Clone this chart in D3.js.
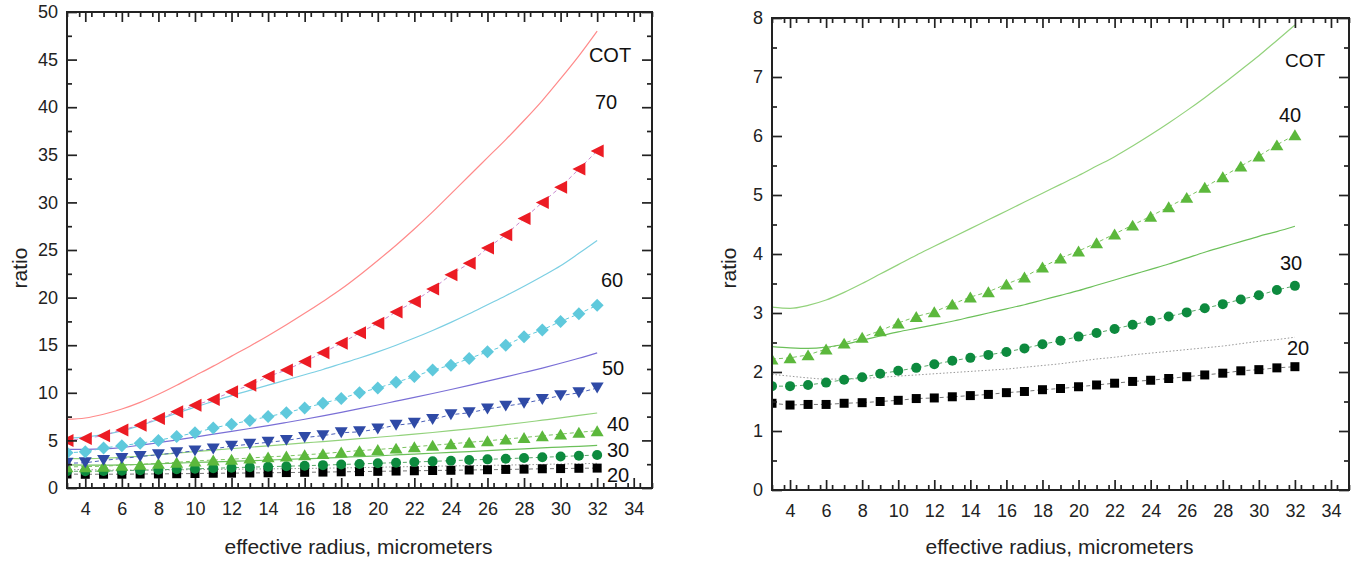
<!DOCTYPE html>
<html>
<head>
<meta charset="utf-8">
<script src="https://cdn.jsdelivr.net/npm/d3@7"></script>
<style>
  body { margin: 0; background: #fff; }
  svg { display: block; font-family: "Liberation Sans", Arial, sans-serif; }
</style>
</head>
<body>
<svg id="chart" width="1371" height="562"></svg>
<script>
// effective radius, micrometers
const radius = [3, 4, 5, 6, 7, 8, 9, 10, 11, 12, 13, 14, 15, 16, 17, 18, 19, 20, 21, 22, 23, 24, 25, 26, 27, 28, 29, 30, 31, 32];

// ratio for each COT (markers)
const cot70 = [5.0, 5.2, 5.5, 6.1, 6.6, 7.3, 8.0, 8.7, 9.3, 10.1, 10.8, 11.7, 12.4, 13.3, 14.2, 15.2, 16.3, 17.3, 18.5, 19.6, 20.9, 22.4, 23.6, 25.2, 26.6, 28.3, 30.0, 31.6, 33.5, 35.4];
const cot60 = [3.7, 3.8, 4.2, 4.45, 4.7, 5.0, 5.4, 5.8, 6.3, 6.7, 7.1, 7.5, 7.9, 8.4, 8.9, 9.4, 10.0, 10.5, 11.1, 11.7, 12.4, 12.9, 13.6, 14.3, 15.0, 15.9, 16.6, 17.5, 18.3, 19.2];
const cot50 = [2.6, 2.65, 2.9, 3.1, 3.3, 3.5, 3.7, 3.9, 4.1, 4.4, 4.6, 4.8, 5.0, 5.3, 5.5, 5.8, 5.9, 6.2, 6.6, 6.8, 7.2, 7.7, 7.9, 8.3, 8.6, 8.9, 9.3, 9.7, 10.0, 10.5];
const cot40 = [2.22, 2.24, 2.29, 2.39, 2.49, 2.59, 2.70, 2.83, 2.94, 3.02, 3.15, 3.27, 3.36, 3.49, 3.61, 3.78, 3.93, 4.05, 4.19, 4.34, 4.49, 4.64, 4.80, 4.96, 5.13, 5.31, 5.49, 5.66, 5.85, 6.02];
const cot30 = [1.76, 1.76, 1.78, 1.82, 1.87, 1.91, 1.97, 2.02, 2.07, 2.13, 2.19, 2.24, 2.29, 2.34, 2.40, 2.47, 2.53, 2.60, 2.66, 2.73, 2.80, 2.87, 2.94, 3.01, 3.08, 3.15, 3.23, 3.30, 3.39, 3.46];
const cot20 = [1.47, 1.44, 1.45, 1.45, 1.47, 1.48, 1.50, 1.52, 1.55, 1.56, 1.58, 1.60, 1.62, 1.65, 1.67, 1.70, 1.72, 1.75, 1.78, 1.81, 1.84, 1.86, 1.89, 1.92, 1.95, 1.98, 2.02, 2.04, 2.07, 2.09];

// ratio curves (thin lines)
const cot70Line = [7.2, 7.35, 7.75, 8.3, 9.0, 9.85, 10.8, 11.8, 12.8, 13.85, 14.9, 16.0, 17.15, 18.35, 19.6, 20.9, 22.35, 23.9, 25.5, 27.2, 29.0, 30.9, 32.8, 34.7, 36.6, 38.6, 40.7, 43.0, 45.4, 48.0];
const cot60Line = [5.25, 5.35, 5.6, 6.0, 6.55, 7.2, 7.85, 8.5, 9.1, 9.7, 10.25, 10.8, 11.35, 11.9, 12.45, 13.05, 13.65, 14.3, 15.0, 15.75, 16.55, 17.4, 18.3, 19.25, 20.2, 21.2, 22.25, 23.35, 24.65, 26.0];
const cot50Line = [4.05, 4.05, 4.1, 4.25, 4.5, 4.75, 5.05, 5.35, 5.65, 5.95, 6.25, 6.55, 6.88, 7.22, 7.58, 7.95, 8.33, 8.72, 9.12, 9.52, 9.93, 10.35, 10.78, 11.22, 11.67, 12.13, 12.6, 13.1, 13.63, 14.2];
const cot40Line = [3.10, 3.08, 3.13, 3.22, 3.35, 3.50, 3.66, 3.82, 3.98, 4.13, 4.28, 4.43, 4.58, 4.73, 4.88, 5.03, 5.18, 5.33, 5.49, 5.65, 5.83, 6.02, 6.22, 6.43, 6.65, 6.88, 7.12, 7.36, 7.62, 7.88];
const cot30Line = [2.43, 2.41, 2.40, 2.42, 2.47, 2.54, 2.61, 2.68, 2.74, 2.80, 2.86, 2.93, 3.00, 3.07, 3.14, 3.22, 3.30, 3.38, 3.47, 3.56, 3.65, 3.74, 3.83, 3.93, 4.03, 4.12, 4.21, 4.30, 4.38, 4.47];
const cot20Line = [1.96, 1.93, 1.90, 1.88, 1.88, 1.89, 1.91, 1.93, 1.95, 1.97, 1.99, 2.01, 2.03, 2.05, 2.08, 2.11, 2.14, 2.18, 2.22, 2.25, 2.29, 2.32, 2.35, 2.38, 2.41, 2.44, 2.48, 2.52, 2.55, 2.59];

const xTickLabels = [4, 6, 8, 10, 12, 14, 16, 18, 20, 22, 24, 26, 28, 30, 32, 34];
const leftYTicks = [0, 5, 10, 15, 20, 25, 30, 35, 40, 45, 50];
const rightYTicks = [0, 1, 2, 3, 4, 5, 6, 7, 8];

const xTitle = "effective radius, micrometers";
const yTitle = "ratio";

// marker shapes, centred on the point
const shapes = {
  triLeft: (s) => `M${-s/2},0L${s/2},${-s/2}L${s/2},${s/2}Z`,
  triDown: (s) => `M${-s/2},${-s*0.42}L${s/2},${-s*0.42}L0,${s*0.42}Z`,
  triUp: (s) => `M${-s/2},${s*0.42}L${s/2},${s*0.42}L0,${-s*0.42}Z`,
  diamond: (s) => `M0,${-s/2}L${s/2},0L0,${s/2}L${-s/2},0Z`,
  circle: (s) => `M${s/2},0A${s/2},${s/2} 0 1 1 ${-s/2},0A${s/2},${s/2} 0 1 1 ${s/2},0Z`,
  square: (s) => `M${-s/2},${-s/2}h${s}v${s}h${-s}Z`
};

const svg = d3.select("#chart");

function drawPanel(cfg)
{
  const x = d3.scaleLinear().domain([3, 35]).range([cfg.left, cfg.right]);
  const y = d3.scaleLinear().domain([0, cfg.yMax]).range([cfg.bottom, cfg.top]);

  const g = svg.append("g");

  const clipId = "clip" + cfg.id;
  svg.append("clipPath").attr("id", clipId)
    .append("rect")
    .attr("x", cfg.left).attr("y", cfg.top)
    .attr("width", cfg.right - cfg.left).attr("height", cfg.bottom - cfg.top);

  const plot = g.append("g").attr("clip-path", `url(#${clipId})`);

  const line = d3.line().curve(d3.curveMonotoneX)
    .x((d, i) => x(radius[i]))
    .y((d) => y(d));

  // thin model curves
  cfg.curves.forEach(function(c)
  {
    plot.append("path")
      .attr("d", line(c.values))
      .attr("fill", "none")
      .attr("stroke", c.color)
      .attr("stroke-width", c.width || 1.2)
      .attr("stroke-dasharray", c.dash || null);
  });

  // dashed lines through markers, then markers
  cfg.series.forEach(function(s)
  {
    plot.append("path")
      .attr("d", d3.line().x((d, i) => x(radius[i])).y((d) => y(d))(s.values))
      .attr("fill", "none")
      .attr("stroke", s.dashColor)
      .attr("stroke-width", 1)
      .attr("stroke-dasharray", "4,3");
  });

  cfg.series.forEach(function(s)
  {
    plot.selectAll(null)
      .data(s.values)
      .join("path")
      .attr("transform", (d, i) => `translate(${x(radius[i])},${y(d)})`)
      .attr("d", shapes[s.shape](s.size))
      .attr("fill", s.color);
  });

  // ticks, all pointing inward
  const xMinor = d3.range(3, 35.01, 2 / 3).filter((v) => Math.abs((v - 4) / 2 - Math.round((v - 4) / 2)) > 0.01);
  const yMinor = cfg.yTicks.slice(0, -1).map((v) => v + cfg.yStep / 2);

  const tickStyle = (sel) =>
  {
    sel.select(".domain").remove();
    sel.selectAll(".tick line").attr("stroke", "#222").attr("stroke-width", 1.7);
    sel.selectAll("text").attr("fill", "#222").style("font-size", "18px").style("font-family", "Liberation Sans, Arial, sans-serif");
  };

  g.append("g").attr("transform", `translate(0,${cfg.bottom})`)
    .call(d3.axisBottom(x).tickValues(xTickLabels).tickSize(-10).tickPadding(14).tickFormat(d3.format("d")))
    .call(tickStyle);
  g.append("g").attr("transform", `translate(0,${cfg.bottom})`)
    .call(d3.axisBottom(x).tickValues(xMinor).tickSize(-5).tickFormat(""))
    .call(tickStyle);
  g.append("g").attr("transform", `translate(0,${cfg.top})`)
    .call(d3.axisTop(x).tickValues(xTickLabels).tickSize(-10).tickFormat(""))
    .call(tickStyle);
  g.append("g").attr("transform", `translate(0,${cfg.top})`)
    .call(d3.axisTop(x).tickValues(xMinor).tickSize(-5).tickFormat(""))
    .call(tickStyle);

  g.append("g").attr("transform", `translate(${cfg.left},0)`)
    .call(d3.axisLeft(y).tickValues(cfg.yTicks).tickSize(-10).tickPadding(9).tickFormat(d3.format("d")))
    .call(tickStyle);
  g.append("g").attr("transform", `translate(${cfg.left},0)`)
    .call(d3.axisLeft(y).tickValues(yMinor).tickSize(-5).tickFormat(""))
    .call(tickStyle);
  g.append("g").attr("transform", `translate(${cfg.right},0)`)
    .call(d3.axisRight(y).tickValues(cfg.yTicks).tickSize(-10).tickFormat(""))
    .call(tickStyle);
  g.append("g").attr("transform", `translate(${cfg.right},0)`)
    .call(d3.axisRight(y).tickValues(yMinor).tickSize(-5).tickFormat(""))
    .call(tickStyle);

  // frame
  g.append("rect")
    .attr("x", cfg.left).attr("y", cfg.top)
    .attr("width", cfg.right - cfg.left).attr("height", cfg.bottom - cfg.top)
    .attr("fill", "none").attr("stroke", "#222").attr("stroke-width", 2);

  // COT labels
  cfg.labels.forEach(function(l)
  {
    g.append("text")
      .attr("x", l.x).attr("y", l.y)
      .attr("text-anchor", "middle")
      .attr("dy", "0.36em")
      .style("font-size", (l.size || 20) + "px")
      .attr("fill", "#111")
      .text(l.text);
  });

  // axis titles
  g.append("text")
    .attr("x", (cfg.left + cfg.right) / 2 + cfg.titleShift)
    .attr("y", 554)
    .attr("text-anchor", "middle")
    .style("font-size", "21px")
    .attr("fill", "#222")
    .text(xTitle);

  g.append("text")
    .attr("transform", `translate(${cfg.yTitleX},268) rotate(-90)`)
    .attr("text-anchor", "middle")
    .attr("dy", "0.35em")
    .style("font-size", "21px")
    .attr("fill", "#222")
    .text(yTitle);
}

drawPanel({
  id: "L", left: 67, right: 652, top: 12, bottom: 488, yMax: 50,
  yTicks: leftYTicks, yStep: 5, titleShift: -1, yTitleX: 20,
  curves: [
    {values: cot70Line, color: "#ff8a8a"},
    {values: cot60Line, color: "#7ccfe3"},
    {values: cot50Line, color: "#7a6fd6"},
    {values: cot40Line, color: "#93d27c"},
    {values: cot30Line, color: "#6cc05a"},
    {values: cot20Line, color: "#999", dash: "1.5,2", width: 1}
  ],
  series: [
    {values: cot20, shape: "square", size: 9, color: "#000", dashColor: "#777"},
    {values: cot30, shape: "circle", size: 10, color: "#0d8a3e", dashColor: "#5aa86a"},
    {values: cot40, shape: "triUp", size: 13, color: "#5cb83c", dashColor: "#7cc460"},
    {values: cot50, shape: "triDown", size: 13, color: "#2f4aa6", dashColor: "#4a5fb8"},
    {values: cot60, shape: "diamond", size: 13, color: "#5fc9dc", dashColor: "#5fc9dc"},
    {values: cot70, shape: "triLeft", size: 13, color: "#ec1c24", dashColor: "#c98ad0"}
  ],
  labels: [
    {text: "COT", x: 610, y: 55},
    {text: "70", x: 606, y: 102},
    {text: "60", x: 612, y: 280},
    {text: "50", x: 613, y: 368},
    {text: "40", x: 618, y: 424},
    {text: "30", x: 618, y: 450},
    {text: "20", x: 618, y: 475}
  ]
});

drawPanel({
  id: "R", left: 772, right: 1349, top: 18, bottom: 490, yMax: 8,
  yTicks: rightYTicks, yStep: 1, titleShift: -1, yTitleX: 729,
  curves: [
    {values: cot40Line, color: "#93d27c"},
    {values: cot30Line, color: "#6cc05a"},
    {values: cot20Line, color: "#999", dash: "1.5,2", width: 1}
  ],
  series: [
    {values: cot20, shape: "square", size: 9, color: "#000", dashColor: "#777"},
    {values: cot30, shape: "circle", size: 10, color: "#0d8a3e", dashColor: "#5aa86a"},
    {values: cot40, shape: "triUp", size: 13, color: "#5cb83c", dashColor: "#7cc460"}
  ],
  labels: [
    {text: "COT", x: 1305, y: 60, size: 19},
    {text: "40", x: 1290, y: 115},
    {text: "30", x: 1291, y: 263},
    {text: "20", x: 1298, y: 348}
  ]
});
</script>
</body>
</html>
